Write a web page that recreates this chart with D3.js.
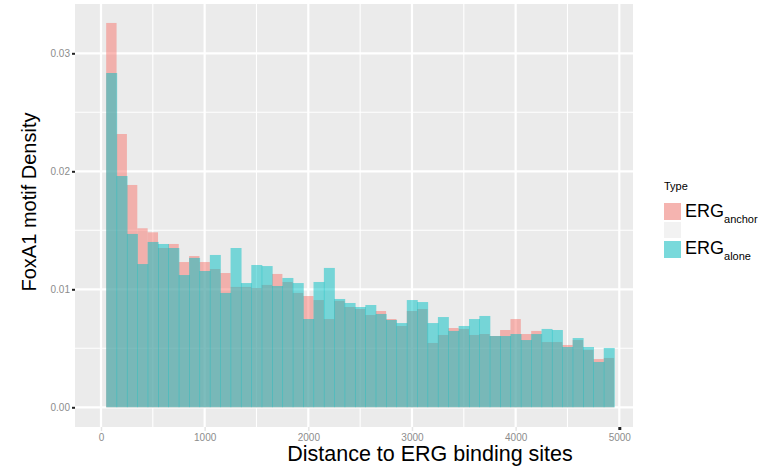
<!DOCTYPE html>
<html><head><meta charset="utf-8">
<script src="https://cdn.jsdelivr.net/npm/d3@7"></script>
<style>body{margin:0;background:#fff} text{font-family:"Liberation Sans",Arial,Helvetica,sans-serif}</style>
</head><body>
<svg id="c" width="774" height="468"></svg>
<script>
const binCenters = [100,200,300,400,500,600,700,800,900,1000,1100,1200,1300,1400,1500,1600,1700,1800,1900,2000,2100,2200,2300,2400,2500,2600,2700,2800,2900,3000,3100,3200,3300,3400,3500,3600,3700,3800,3900,4000,4100,4200,4300,4400,4500,4600,4700,4800,4900];
const binWidth = 100;
const anchorDensity = [0.03257,0.02316,0.01884,0.01517,0.01483,0.01350,0.01384,0.01231,0.01282,0.01231,
  0.01172,0.01138,0.01020,0.01020,0.01011,0.01037,0.01130,0.01062,0.00969,0.00943,
  0.00909,0.00748,0.00902,0.00850,0.00833,0.00782,0.00816,0.00748,0.00689,0.00816,
  0.00833,0.00545,0.00613,0.00672,0.00664,0.00613,0.00621,0.00604,0.00655,0.00748,
  0.00621,0.00647,0.00553,0.00553,0.00528,0.00570,0.00486,0.00409,0.00418];
const aloneDensity = [0.02833,0.01960,0.01469,0.01214,0.01401,0.01384,0.01350,0.01121,0.01266,0.01155,
  0.01291,0.00969,0.01350,0.01053,0.01206,0.01197,0.01028,0.01096,0.01053,0.00748,
  0.01062,0.01181,0.00918,0.00884,0.00850,0.00867,0.00791,0.00740,0.00714,0.00909,
  0.00892,0.00714,0.00765,0.00647,0.00689,0.00748,0.00774,0.00604,0.00604,0.00621,
  0.00570,0.00621,0.00664,0.00655,0.00511,0.00587,0.00511,0.00384,0.00503];
const seriesNames = ["anchor","alone"];
const seriesColors = ["#F8766D","#00BFC4"];
const xTicks = [0,1000,2000,3000,4000,5000];
const xMinor = [500,1500,2500,3500,4500];
const yTicks = [0,0.01,0.02,0.03];
const yMinor = [0.005,0.015,0.025];
const yTickLabels = ["0.00","0.01","0.02","0.03"];

const svg = d3.select("#c");
const P = {l:75, r:633, t:4, b:427};
const x = d3.scaleLinear().domain([0,5000]).range([101,619.3]);
const y = d3.scaleLinear().domain([0,0.03]).range([407.3,53.3]);

svg.append("rect").attr("x",P.l).attr("y",P.t).attr("width",P.r-P.l).attr("height",P.b-P.t).attr("fill","#EBEBEB");
svg.selectAll(".ymin").data(yMinor).join("line").attr("x1",P.l).attr("x2",P.r).attr("y1",d=>y(d)).attr("y2",d=>y(d)).attr("stroke","#fff").attr("stroke-width",1.1);
svg.selectAll(".xmin").data(xMinor).join("line").attr("y1",P.t).attr("y2",P.b).attr("x1",d=>x(d)).attr("x2",d=>x(d)).attr("stroke","#fff").attr("stroke-width",1.1);
svg.selectAll(".ymaj").data(yTicks).join("line").attr("x1",P.l).attr("x2",P.r).attr("y1",d=>y(d)).attr("y2",d=>y(d)).attr("stroke","#fff").attr("stroke-width",2.2);
svg.selectAll(".xmaj").data(xTicks).join("line").attr("y1",P.t).attr("y2",P.b).attr("x1",d=>x(d)).attr("x2",d=>x(d)).attr("stroke","#fff").attr("stroke-width",2.2);

[anchorDensity, aloneDensity].forEach((vals,si)=>{
  const g = svg.append("g");
  g.selectAll("rect").data(binCenters.map((c,i)=>({c,v:vals[i]}))).join("rect")
    .attr("x",d=>x(d.c-binWidth/2))
    .attr("width",d=>x(d.c+binWidth/2)-x(d.c-binWidth/2)+(si===1?0.6:0))
    .attr("y",d=>y(d.v))
    .attr("height",d=>y(0)-y(d.v))
    .attr("fill",seriesColors[si]).attr("fill-opacity",0.5);
});

const ya = d3.axisLeft(y).tickValues(yTicks).tickFormat((d,i)=>yTickLabels[i]).tickSize(3).tickPadding(2);
const yg = svg.append("g").attr("transform",`translate(${P.l},0)`).call(ya);
yg.select(".domain").remove();
yg.selectAll(".tick line").attr("stroke","#222").attr("stroke-width",2);
yg.selectAll(".tick text").attr("fill","#8C8C8C").style("font-size","10px");

const xa = d3.axisBottom(x).tickValues(xTicks).tickFormat(d3.format("d")).tickSize(4).tickPadding(3);
const xg = svg.append("g").attr("transform",`translate(0,${P.b})`).call(xa);
xg.select(".domain").remove();
xg.selectAll(".tick line").attr("stroke",d=>d===5000?"#222":"#E5E5E5").attr("stroke-width",d=>d===5000?3:1.5).attr("y2",d=>d===5000?3:4);
xg.selectAll(".tick text").attr("fill","#8C8C8C").style("font-size","10px");

svg.append("text").attr("x",430).attr("y",461).attr("text-anchor","middle").style("font-size","21.5px").attr("fill","#000").text("Distance to ERG binding sites");
svg.append("text").attr("transform","translate(36,202) rotate(-90)").attr("text-anchor","middle").style("font-size","20px").attr("fill","#000").text("FoxA1 motif Density");

const lg = svg.append("g");
lg.append("text").attr("x",664).attr("y",190).style("font-size","11px").attr("fill","#000").text("Type");
lg.append("rect").attr("x",664).attr("y",203).attr("width",17).attr("height",17).attr("fill","#F2F2F2");
lg.append("rect").attr("x",664).attr("y",203).attr("width",17).attr("height",17).attr("fill",seriesColors[0]).attr("fill-opacity",0.5);
lg.append("rect").attr("x",664).attr("y",222).attr("width",17).attr("height",16).attr("fill","#F2F2F2");
lg.append("rect").attr("x",664).attr("y",241).attr("width",17).attr("height",17).attr("fill","#F2F2F2");
lg.append("rect").attr("x",664).attr("y",241).attr("width",17).attr("height",17).attr("fill",seriesColors[1]).attr("fill-opacity",0.5);
seriesNames.forEach((n,i)=>{
  const t = lg.append("text").attr("x",685).attr("y",i===0?217:254).style("font-size","18px").attr("fill","#000");
  t.append("tspan").text("ERG");
  t.append("tspan").attr("dy",6).style("font-size","11px").text(n);
});
</script>
</body></html>
